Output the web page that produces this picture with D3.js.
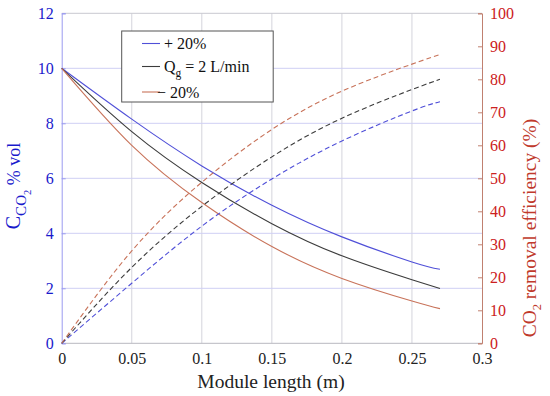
<!DOCTYPE html>
<html><head><meta charset="utf-8">
<script src="https://cdn.jsdelivr.net/npm/d3@7"></script>
<style>body{margin:0;background:#fff}svg{display:block}</style>
</head><body><svg id="c" width="550" height="396"></svg>
<script>
const lengthM = [0, 0.05, 0.1, 0.15, 0.2, 0.25, 0.27];
const concPlus20 = [10, 8.15, 6.45, 5.02, 3.87, 2.96, 2.69];
const concBase = [10, 7.7, 5.85, 4.35, 3.18, 2.31, 1.99];
const concMinus20 = [10, 7.2, 5.12, 3.52, 2.36, 1.54, 1.26];
const effPlus20 = [0, 18.2, 35.5, 49.8, 61.3, 70.4, 73.2];
const effBase = [0, 23, 41.5, 56.5, 68.2, 76.9, 80];
const effMinus20 = [0, 28, 48.8, 64.8, 76.4, 84.6, 87.5];
const xTicks = [0, 0.05, 0.1, 0.15, 0.2, 0.25, 0.3];
const xTickLabels = ["0", "0.05", "0.1", "0.15", "0.2", "0.25", "0.3"];
const leftTicks = [0, 2, 4, 6, 8, 10, 12];
const rightTicks = [0, 10, 20, 30, 40, 50, 60, 70, 80, 90, 100];
const seriesNames = ["+ 20%", "Qg", "− 20%"];

const svg = d3.select("#c");
function w(f) {
  const t = svg.append("text").attr("font-size", 40).attr("font-family", f).text("Module length (m) 0.05");
  const v = t.node().getComputedTextLength(); t.remove(); return v;
}
const cands = ["Liberation Serif", "Times New Roman", "Tinos", "DejaVu Serif", "Noto Serif"];
let FONT = "serif";
for (const c of cands) {
  if (Math.abs(w(`"${c}",monospace`) - w("monospace")) > 0.5) { FONT = `"${c}",serif`; break; }
}

const L = 61.7, R = 482, T = 13.3, B = 343.3;
const x = d3.scaleLinear().domain([0, 0.3]).range([L, R]);
const yL = d3.scaleLinear().domain([0, 12]).range([B, T]);
const yR = d3.scaleLinear().domain([0, 100]).range([B, T]);

const cBlue = "#5050d8", cBlack = "#3c3c3c", cRed = "#c8735a";
const colors = [cBlue, cBlack, cRed];

// grid
svg.append("g").selectAll("line").data(xTicks.slice(1, -1)).join("line")
  .attr("x1", d => x(d)).attr("x2", d => x(d)).attr("y1", T).attr("y2", B)
  .attr("stroke", "#d4d4dc").attr("stroke-width", 1);
svg.append("g").selectAll("line").data(leftTicks.slice(1, -1)).join("line")
  .attr("x1", L).attr("x2", R).attr("y1", d => yL(d)).attr("y2", d => yL(d))
  .attr("stroke", "#cfcff4").attr("stroke-width", 1);
svg.append("line").attr("x1", L).attr("x2", R).attr("y1", T).attr("y2", T).attr("stroke", "#c8c8d0");
svg.append("line").attr("x1", L).attr("x2", R).attr("y1", B).attr("y2", B).attr("stroke", "#b8b8c0");

// axes
const ax = svg.append("g").attr("transform", `translate(0,${B})`)
  .call(d3.axisBottom(x).tickValues(xTicks).tickFormat((d, i) => xTickLabels[i]).tickSize(0).tickPadding(9));
ax.attr("font-family", FONT);
ax.select(".domain").remove();
ax.selectAll("text").attr("font-size", 16).attr("fill", "#222");

const al = svg.append("g").attr("transform", `translate(${L},0)`)
  .call(d3.axisLeft(yL).tickValues(leftTicks).tickSize(-4).tickPadding(8));
al.attr("font-family", FONT);
al.select(".domain").attr("stroke", "#9a9af0");
al.selectAll(".tick line").attr("stroke", "#9a9af0");
al.selectAll("text").attr("font-size", 16).attr("fill", "#1a1acc");

const ar = svg.append("g").attr("transform", `translate(${R},0)`)
  .call(d3.axisRight(yR).tickValues(rightTicks).tickSize(-4).tickPadding(8));
ar.attr("font-family", FONT);
ar.select(".domain").attr("stroke", "#c08070");
ar.selectAll(".tick line").attr("stroke", "#c08070");
ar.selectAll("text").attr("font-size", 16).attr("fill", "#cc2020");

// lines
const concs = [concPlus20, concBase, concMinus20];
const effs = [effPlus20, effBase, effMinus20];
const lineL = d3.line().x((d, i) => x(lengthM[i])).y(d => yL(d)).curve(d3.curveNatural);
const lineR = d3.line().x((d, i) => x(lengthM[i])).y(d => yR(d)).curve(d3.curveNatural);
concs.forEach((s, k) => svg.append("path").attr("d", lineL(s)).attr("fill", "none")
  .attr("stroke", colors[k]).attr("stroke-width", 1.1));
effs.forEach((s, k) => svg.append("path").attr("d", lineR(s)).attr("fill", "none")
  .attr("stroke", colors[k]).attr("stroke-width", 1.1).attr("stroke-dasharray", "5,3"));

// legend
const lg = svg.append("g").attr("font-family", FONT);
lg.append("rect").attr("x", 121.7).attr("y", 31).attr("width", 151.5).attr("height", 71)
  .attr("fill", "#fff").attr("stroke", "#555").attr("stroke-width", 1);
const rowY = [43.5, 66.5, 92];
rowY.forEach((yy, k) => {
  lg.append("line").attr("x1", 142).attr("x2", 160).attr("y1", yy).attr("y2", yy)
    .attr("stroke", colors[k]).attr("stroke-width", 1.1);
});
lg.append("text").attr("x", 164).attr("y", rowY[0] + 5.5).attr("font-size", 16).attr("fill", "#111").text(seriesNames[0]);
const tq = lg.append("text").attr("x", 164).attr("y", rowY[1] + 5.5).attr("font-size", 16).attr("fill", "#111");
tq.append("tspan").text("Q");
tq.append("tspan").attr("dy", 5).attr("font-size", 11.5).text("g");
tq.append("tspan").attr("dy", -5).text(" = 2 L/min");
lg.append("text").attr("x", 157).attr("y", rowY[2] + 5.5).attr("font-size", 16).attr("fill", "#111").text(seriesNames[2]);

// x title
svg.append("text").attr("x", 271).attr("y", 388).attr("text-anchor", "middle").attr("font-family", FONT)
  .attr("font-size", 19.5).attr("fill", "#222").text("Module length (m)");

// left title
const tl = svg.append("text").attr("transform", "translate(20,186) rotate(-90)").attr("font-family", FONT)
  .attr("text-anchor", "middle").attr("fill", "#1a1acc").attr("font-size", 20);
tl.append("tspan").text("C");
tl.append("tspan").attr("dy", 6).attr("font-size", 15).text("CO");
tl.append("tspan").attr("dy", 5).attr("font-size", 10.5).text("2");
tl.append("tspan").attr("dy", -11).attr("font-size", 18).text(" % vol");

// right title
const tr = svg.append("text").attr("transform", "translate(536,228) rotate(-90)").attr("font-family", FONT)
  .attr("text-anchor", "middle").attr("fill", "#c0392b").attr("font-size", 19.5);
tr.append("tspan").text("CO");
tr.append("tspan").attr("dy", 5).attr("font-size", 12.5).text("2");
tr.append("tspan").attr("dy", -5).text(" removal efficiency (%)");
</script></body></html>
